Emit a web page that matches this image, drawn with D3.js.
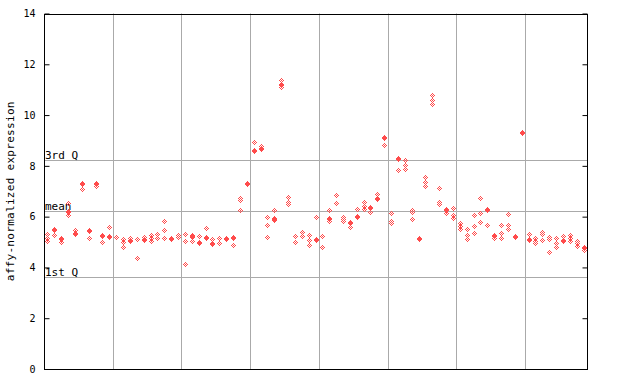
<!DOCTYPE html>
<html><head><meta charset="utf-8">
<script src="https://cdn.jsdelivr.net/npm/d3@7"></script>
<style>body{margin:0;background:#fff}svg{display:block}</style></head>
<body>
<script>
// ---- data ----
const sampleCount = 79;
const groupBreaks = [10, 20, 30, 40, 50, 60, 70];
const filledValues = [null,5.47,5.12,6.17,5.3,7.29,5.44,7.27,5.23,5.19,
  null,null,5.05,null,5.08,null,null,null,5.12,null,
  null,5.2,4.97,5.17,4.92,null,5.13,5.17,null,7.29,
  8.59,8.67,null,5.86,11.18,null,null,null,null,5.08,
  null,5.89,null,null,5.73,5.99,null,6.36,6.69,9.1,
  null,8.26,null,null,5.1,null,null,null,6.26,null,
  null,null,null,null,6.26,5.22,null,null,5.21,9.3,
  5.09,null,null,null,null,5.05,null,null,4.77];
const hollowValues = [[5.3,5.15,5.05],[5.26],[5.01],[6.52,6.06],[5.47,5.37],[7.07],[5.14],[7.32,7.2],[4.99],[5.58],
  [5.18],[5.12,5.0,4.81],[5.15],[5.1,4.38],[5.2],[5.26,5.14,5.05],[5.3,5.17],[5.82,5.47,5.14],[],[5.26,5.18],
  [5.3,5.04,4.12],[5.26,5.05],[5.22],[5.54],[5.1],[5.14,4.98],[],[4.9],[6.72,6.65,6.28],[],
  [8.93],[8.78],[5.98,5.66,5.18],[6.28,5.95],[11.37,11.09],[6.76,6.58,6.49],[5.23,5.01],[5.4,5.23],[5.26,5.08,4.88],[5.97],
  [5.25,4.81],[6.28,5.82],[6.85,6.55],[6.0,5.89,5.82],[5.58],[6.32],[6.56,6.42,6.31],[6.17],[6.89],[8.84],
  [6.13,5.82,5.73],[7.83],[8.22,8.05,7.86],[6.28,6.2,5.89],[],[7.57,7.37,7.2],[10.78,10.59,10.42],[7.11,6.56,6.49],[6.15],[6.36,6.05,5.96],
  [5.76,5.63,5.5],[5.5,5.29,5.13],[6.05,5.62,5.34],[6.72,6.13,5.77],[5.66],[5.17],[5.69,5.37,5.14],[6.09,5.67,5.5],[],[],
  [5.31],[5.14,5.05,4.97],[5.4,5.31,5.08],[5.18,5.1,4.59],[5.14,4.95,4.79],[5.23],[5.26,5.16,5.05],[5.04,4.95,4.84],[4.68]];
const statLabels = ["3rd Q", "mean", "1st Q"];
const statValues = [8.22, 6.21, 3.61];
const yTicks = [0, 2, 4, 6, 8, 10, 12, 14];
const yLabel = "affy-normalized expression";

// ---- drawing ----
(function () {
const W = 640, H = 384;
const pLeft = 44, pRight = 587, pTop = 13.5, pBottom = 369;
const red = "#ff4b4b", grid = "#aaaaaa", font = "'DejaVu Sans Mono', monospace";

const svg = d3.select("body").append("svg").attr("width", W).attr("height", H);
const defs = svg.append("defs");
const pat = defs.append("pattern").attr("id", "checker").attr("patternUnits", "userSpaceOnUse")
  .attr("width", 2).attr("height", 2);
pat.append("rect").attr("x", 0).attr("y", 0).attr("width", 1).attr("height", 1).attr("fill", red);
pat.append("rect").attr("x", 1).attr("y", 1).attr("width", 1).attr("height", 1).attr("fill", red);

const x = d3.scaleBand().domain(d3.range(sampleCount)).range([pLeft, pRight]);
const y = d3.scaleLinear().domain([0, 14]).range([pBottom, pTop]);
const cx = i => Math.round(x(i) + x.bandwidth() / 2);
const cy = v => Math.round(y(v));

// vertical group lines
svg.append("g").selectAll("line").data(groupBreaks).join("line")
  .attr("x1", d => Math.round(x(d)) + 0.5).attr("x2", d => Math.round(x(d)) + 0.5)
  .attr("y1", pTop).attr("y2", pBottom).attr("stroke", grid).attr("stroke-width", 1);

// stat lines
svg.append("g").selectAll("line").data(statValues).join("line")
  .attr("x1", pLeft).attr("x2", pRight)
  .attr("y1", d => Math.round(y(d)) + 0.5).attr("y2", d => Math.round(y(d)) + 0.5)
  .attr("stroke", grid).attr("stroke-width", 1);
svg.append("g").selectAll("text").data(statLabels).join("text")
  .attr("x", 45).attr("y", (d, i) => Math.round(y(statValues[i])) - 1)
  .attr("font-family", font).attr("font-size", 11).attr("fill", "#000").text(d => d);

// points
const diamond = "M0,-3L3,0L0,3L-3,0Z";
const hollowPts = [];
hollowValues.forEach((arr, i) => arr.forEach(v => hollowPts.push({ i, v })));
svg.append("g").selectAll("path").data(hollowPts).join("path")
  .attr("d", diamond).attr("transform", d => `translate(${cx(d.i)},${cy(d.v)})`)
  .attr("fill", "url(#checker)").attr("shape-rendering", "crispEdges");
const filledPts = filledValues.map((v, i) => ({ i, v })).filter(d => d.v !== null);
svg.append("g").selectAll("path").data(filledPts).join("path")
  .attr("d", diamond).attr("transform", d => `translate(${cx(d.i)},${cy(d.v)})`)
  .attr("fill", red).attr("shape-rendering", "crispEdges");

// axes
const gl = svg.append("g").attr("transform", `translate(${pLeft + 0.5},0)`)
  .call(d3.axisLeft(y).tickValues(yTicks).tickSizeInner(-5).tickSizeOuter(0).tickPadding(9));
gl.select(".domain").remove();
gl.selectAll("line").attr("stroke", "#000");
gl.selectAll("text").attr("font-family", font).attr("font-size", 10).attr("fill", "#000");
const gr = svg.append("g").attr("transform", `translate(${pRight + 0.5},0)`)
  .call(d3.axisRight(y).tickValues(yTicks).tickSizeInner(-5).tickSizeOuter(0).tickFormat(""));
gr.select(".domain").remove();
gr.selectAll("line").attr("stroke", "#000");

svg.append("rect").attr("x", pLeft + 0.5).attr("y", Math.round(pTop) + 0.5)
  .attr("width", pRight - pLeft).attr("height", Math.round(pBottom) - Math.round(pTop))
  .attr("fill", "none").attr("stroke", "#000").attr("stroke-width", 1);

svg.append("text").attr("transform", `translate(14,${(pTop + pBottom) / 2}) rotate(-90)`)
  .attr("text-anchor", "middle").attr("font-family", font).attr("font-size", 11)
  .attr("letter-spacing", 0.3).attr("fill", "#000").text(yLabel);
})();
</script>
</body></html>
